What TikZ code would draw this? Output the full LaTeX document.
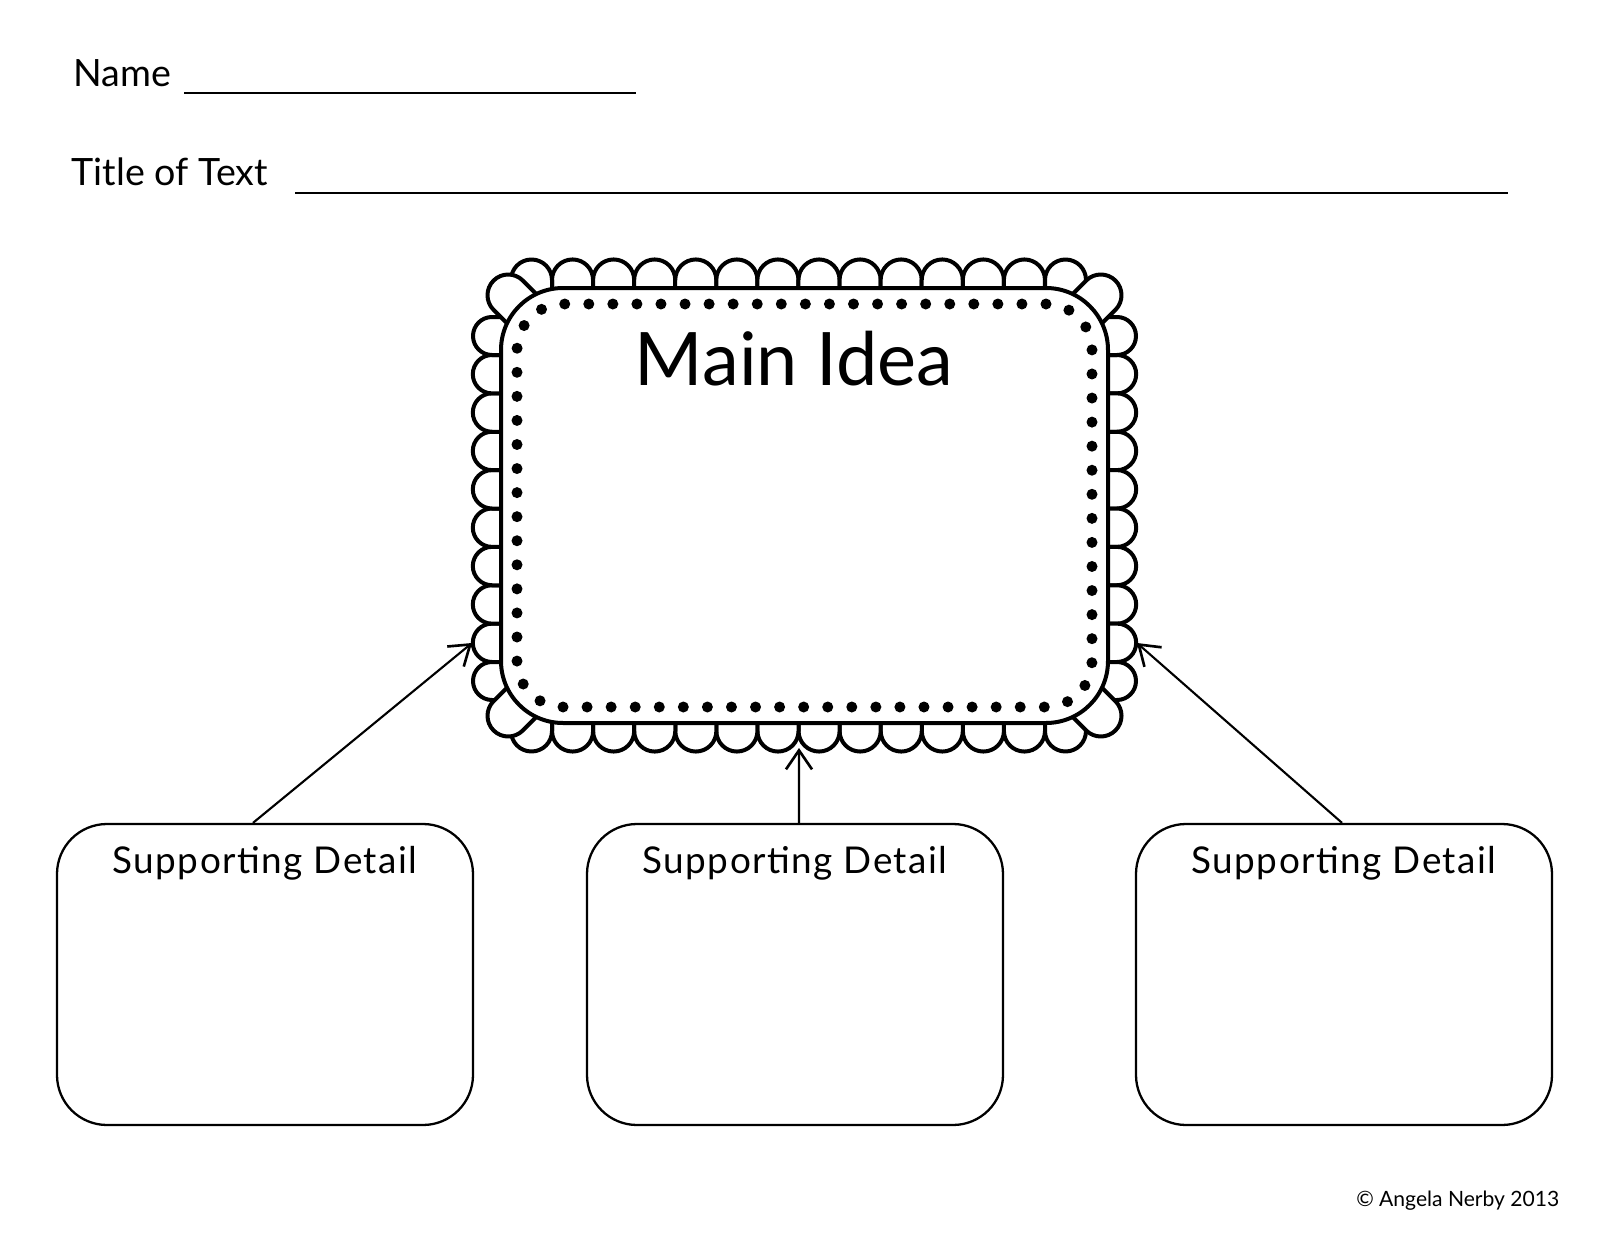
\documentclass[tikz,border=0pt]{standalone}
\usepackage{fontspec}
\setmainfont{Lato}
\usetikzlibrary{calc,arrows.meta}

% one scallop on the frame: base from #1 to #2 (clockwise), legs #3 long
\newcommand\scallopbump[3]{%
  \filldraw[scallop] let \p1=(#1), \p2=(#2),
    \n1={atan2(\y2-\y1,\x2-\x1)}, \n2={veclen(\x2-\x1,\y2-\y1)/2} in
    (\p1) -- ++(\n1+90:#3) arc[start angle=\n1+180, delta angle=-180, radius=\n2] -- (\p2);
}

\begin{document}
\begin{tikzpicture}[x=0.1mm, y=0.1mm,
  scallop/.style={fill=white, draw=black, line width=0.4mm, line join=round},
  mainbox/.style={draw, fill=white, line width=0.4mm, rounded corners=6.2mm,
    minimum width=60.7mm, minimum height=43.5mm, inner sep=0pt},
  dotbox/.style={draw, line width=1.1mm, line cap=round, dash pattern=on 0pt off 2.4064mm,
    rounded corners=4.6mm, minimum width=57.5mm, minimum height=40.3mm, inner sep=0pt},
  detailbox/.style={draw, line width=0.65pt, rounded corners=5mm,
    minimum width=41.6mm, minimum height=30.1mm, inner sep=0pt},
  headtext/.style={font=\fontsize{10.7}{13}\selectfont, inner sep=0pt, anchor=base west},
  detailtext/.style={font=\fontsize{10.5}{12}\selectfont\addfontfeature{LetterSpace=4}, inner sep=0pt, anchor=base},
  ideatext/.style={font=\fontsize{21}{25}\selectfont, inner sep=0pt, anchor=base},
  link/.style={line width=0.6pt, -{Straight Barb[length=1.9mm,width=2.6mm,line width=0.75pt]}}]
  \useasboundingbox (0,0) rectangle (1600,1236);

  % Name and title lines
  \node[headtext] (name) at (73,1149) {Name};
  \draw[line width=0.5pt] (184,1143) -- (636,1143);
  \node[headtext] (title) at (71,1051) {Title of Text};
  \draw[line width=0.5pt] (295,1043) -- (1508,1043);

  % Scallops along the straight edges
  \foreach \i in {0,...,11} {
    \scallopbump{552+41.08*\i,948}{593.08+41.08*\i,948}{8}
    \scallopbump{1045-41.08*\i,513}{1003.92-41.08*\i,513}{8}
  }
  \foreach \i in {0,...,7} {
    \scallopbump{1108,881-38.375*\i}{1108,842.625-38.375*\i}{9}
    \scallopbump{501,574+38.375*\i}{501,612.375+38.375*\i}{9}
  }

  % Scallops round the corners
  \scallopbump{1045,948}{1086,948}{8}
  \scallopbump{1108,919}{1108,881}{9}
  \scallopbump{1072.7,942}{1102,912.7}{19}
  \scallopbump{1108,574}{1108,536}{9}
  \scallopbump{1086,513}{1045,513}{8}
  \scallopbump{1102,548.3}{1072.7,519}{19}
  \scallopbump{552,513}{511,513}{8}
  \scallopbump{501,536}{501,574}{9}
  \scallopbump{536.3,519}{507,548.3}{19}
  \scallopbump{501,881}{501,919}{9}
  \scallopbump{511,948}{552,948}{8}
  \scallopbump{507,912.7}{536.3,942}{19}

  % Main idea frame
  \node[mainbox] (main) at (804.5,730.5) {};
  \node[dotbox] (dots) at (main.center) {};
  \node[ideatext] (idea) at (794,851) {Main Idea};

  % Supporting detail boxes
  \node[detailbox] (left) at (265,261.5) {};
  \node[detailbox] (mid) at (795,261.5) {};
  \node[detailbox] (right) at (1344,261.5) {};
  \node[detailtext] (leftlbl) at ([yshift=-5.1mm]left.north) {Supporting Detail};
  \node[detailtext] (midlbl) at ([yshift=-5.1mm]mid.north) {Supporting Detail};
  \node[detailtext] (rightlbl) at ([yshift=-5.1mm]right.north) {Supporting Detail};

  % Arrows up to the frame
  \coordinate (tipL) at (472,593);
  \coordinate (tipM) at (799,488);
  \coordinate (tipR) at (1137,593);
  \draw[link] ([xshift=-1.2mm]left.north) -- (tipL);
  \draw[link] ([xshift=0.4mm]mid.north) -- (tipM);
  \draw[link] ([xshift=-0.2mm]right.north) -- (tipR);

  % Copyright line
  \node[font=\fontsize{6}{7}\selectfont, inner sep=0pt, anchor=base east] (copy) at (1560,30) {© Angela Nerby 2013};
\end{tikzpicture}
\end{document}
